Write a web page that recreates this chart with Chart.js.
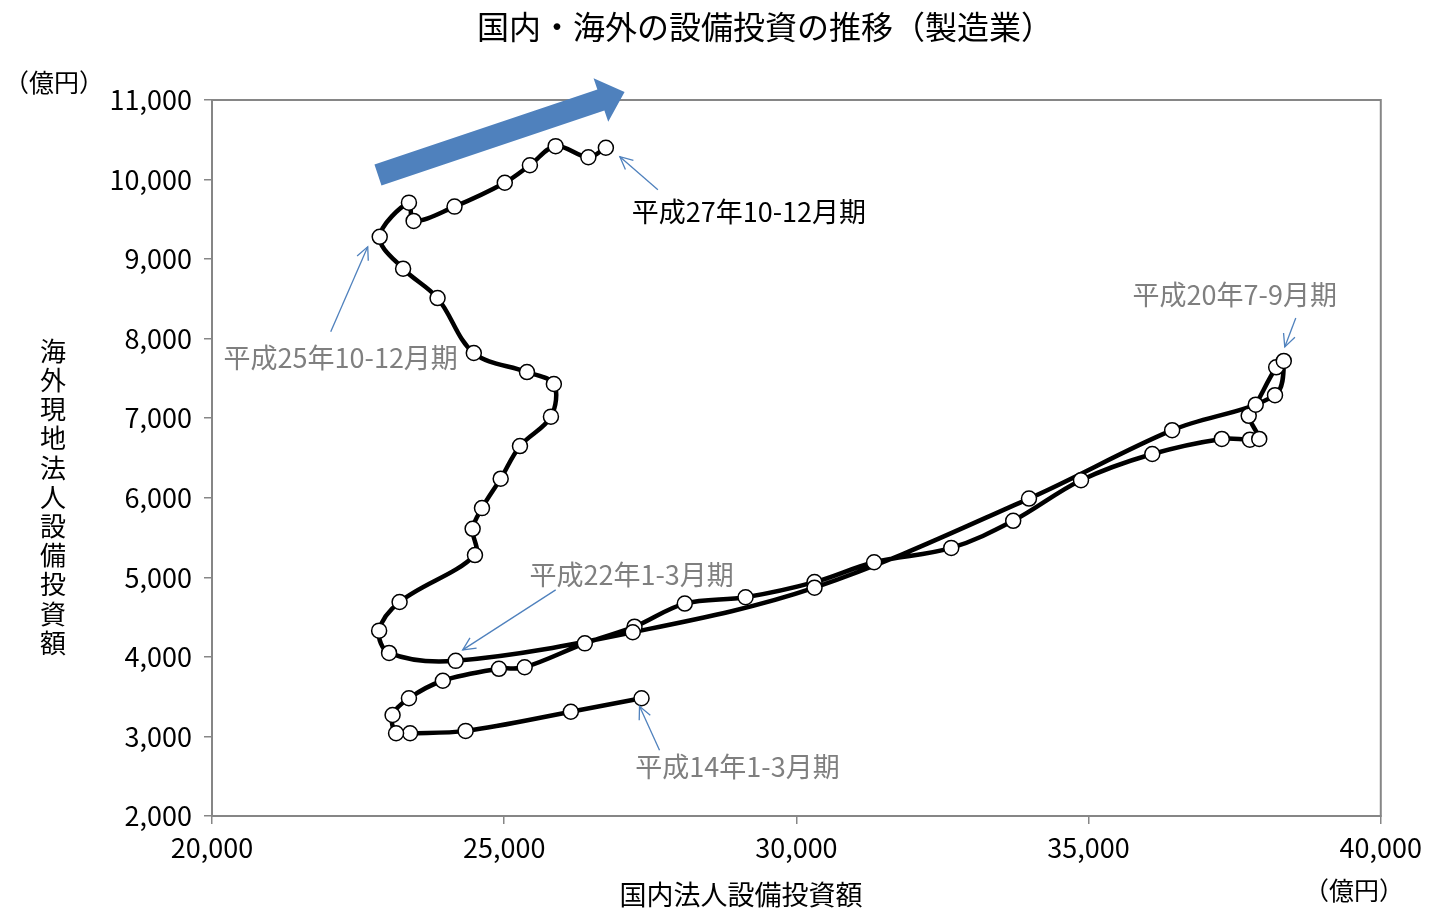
<!DOCTYPE html>
<html lang="ja">
<head>
<meta charset="utf-8">
<title>国内・海外の設備投資の推移（製造業）</title>
<script src="https://cdn.jsdelivr.net/npm/chart.js@4.4.1/dist/chart.umd.min.js"></script>
<style>
    html, body { margin: 0; padding: 0; background: #fff; }
    #wrap { width: 1430px; height: 911px; }
</style>
</head>
<body>
<div id="wrap"><canvas id="chart"></canvas></div>
<script>
// ===== DATA (億円, 平成14年1-3月期 〜 平成27年10-12月期, 四半期) =====
const domestic = [
    27350, 26140, 24340, 23390, 23150, 23090, 23370, 23950, 24910, 25350, 26380, 27230,
    28090, 29130, 30310, 31330, 32650, 33710, 34870, 36090, 37280, 37760, 37920, 37740,
    37860, 38210, 38340, 38190, 36430, 33980, 30310, 27200, 24170, 23030, 22860, 23210,
    24500, 24460, 24620, 24940, 25270, 25800, 25850, 25390, 24480, 23860, 23270, 22870,
    23370, 23450, 24150, 25010, 25440, 25880, 26440, 26740
];
const overseas = [
    3480, 3310, 3070, 3040, 3040, 3270, 3480, 3700, 3850, 3870, 4170, 4380,
    4670, 4750, 4940, 5190, 5370, 5710, 6220, 6550, 6740, 6730, 6740, 7030,
    7170, 7640, 7720, 7290, 6850, 5990, 4870, 4310, 3950, 4050, 4330, 4690,
    5280, 5610, 5870, 6240, 6650, 7020, 7430, 7580, 7820, 8510, 8880, 9280,
    9710, 9480, 9660, 9960, 10180, 10420, 10280, 10400
];
const xTicks = [20000, 25000, 30000, 35000, 40000];
const yTicks = [2000, 3000, 4000, 5000, 6000, 7000, 8000, 9000, 10000, 11000];

const FONT = "'Noto Sans CJK JP', 'Noto Sans', sans-serif";
const GRAY = "#868686";
const BLUE = "#4F81BD";

// 注記: idx = 対象の点, 位置は点からのピクセル差
const notes = [
    { idx: 0,  text: "平成14年1-3月期",  color: "#7f7f7f", label: [96, 68],   tail: [18, 52],  tip: [-2, 8] },
    { idx: 26, text: "平成20年7-9月期",  color: "#7f7f7f", label: [-49, -66], tail: [12, -43], tip: [1, -14] },
    { idx: 32, text: "平成22年1-3月期",  color: "#7f7f7f", label: [176, -86], tail: [100, -71], tip: [7, -11] },
    { idx: 47, text: "平成25年10-12月期", color: "#7f7f7f", label: [-39, 121], tail: [-49, 95], tip: [-12, 10] },
    { idx: 55, text: "平成27年10-12月期", color: "#000000", label: [143, 64],  tail: [52, 42],  tip: [14, 9] }
];

// 大きい矢印 (データ座標)
const trendArrow = { from: [22840, 10057], to: [27060, 11100] };

function thinArrow(ctx, x1, y1, x2, y2) {
    ctx.beginPath();
    ctx.moveTo(x1, y1);
    ctx.lineTo(x2, y2);
    ctx.stroke();
    const a = Math.atan2(y2 - y1, x2 - x1);
    const len = 14, spread = 0.45;
    ctx.beginPath();
    ctx.moveTo(x2 - len * Math.cos(a - spread), y2 - len * Math.sin(a - spread));
    ctx.lineTo(x2, y2);
    ctx.lineTo(x2 - len * Math.cos(a + spread), y2 - len * Math.sin(a + spread));
    ctx.stroke();
}

function bigArrow(ctx, x1, y1, x2, y2) {
    const a = Math.atan2(y2 - y1, x2 - x1);
    const L = Math.hypot(x2 - x1, y2 - y1);
    ctx.save();
    ctx.translate(x1, y1);
    ctx.rotate(a);
    ctx.beginPath();
    ctx.moveTo(0, -11);
    ctx.lineTo(L - 25, -11);
    ctx.lineTo(L - 25, -23);
    ctx.lineTo(L, 0);
    ctx.lineTo(L - 25, 23);
    ctx.lineTo(L - 25, 11);
    ctx.lineTo(0, 11);
    ctx.closePath();
    ctx.fillStyle = BLUE;
    ctx.fill();
    ctx.restore();
}

function text(ctx, str, x, y, size, color) {
    ctx.font = size + "px " + FONT;
    ctx.fillStyle = color || "#000";
    ctx.textAlign = "center";
    ctx.textBaseline = "middle";
    ctx.fillText(str, x, y);
}

const decorations = {
    id: "decorations",
    afterDraw(chart) {
        const ctx = chart.ctx;
        const a = chart.chartArea;
        const xs = chart.scales.x, ys = chart.scales.y;
        ctx.save();

        // 枠
        ctx.strokeStyle = GRAY;
        ctx.lineWidth = 2;
        ctx.strokeRect(a.left, a.top, a.right - a.left, a.bottom - a.top);

        // タイトル・軸ラベル
        text(ctx, "国内・海外の設備投資の推移（製造業）", 765, 27, 32);
        text(ctx, "（億円）", 54, 82, 25);
        text(ctx, "（億円）", 1354, 890, 25);
        text(ctx, "国内法人設備投資額", 741, 895, 27);
        const yTitle = "海外現地法人設備投資額";
        for (let i = 0; i < yTitle.length; i++) {
            text(ctx, yTitle[i], 53, 351 + i * 29.2, 26);
        }

        // 注記
        notes.forEach(n => {
            const px = xs.getPixelForValue(domestic[n.idx]);
            const py = ys.getPixelForValue(overseas[n.idx]);
            ctx.strokeStyle = BLUE;
            ctx.lineWidth = 1.3;
            thinArrow(ctx, px + n.tail[0], py + n.tail[1], px + n.tip[0], py + n.tip[1]);
            text(ctx, n.text, px + n.label[0], py + n.label[1], 27, n.color);
        });

        // トレンド矢印
        bigArrow(ctx,
            xs.getPixelForValue(trendArrow.from[0]), ys.getPixelForValue(trendArrow.from[1]),
            xs.getPixelForValue(trendArrow.to[0]), ys.getPixelForValue(trendArrow.to[1]));

        ctx.restore();
    }
};

const points = domestic.map((d, i) => ({ x: d, y: overseas[i] }));

new Chart(document.getElementById("chart"), {
    type: "scatter",
    data: {
        datasets: [{
            label: "設備投資",
            data: points,
            showLine: true,
            borderColor: "#000",
            borderWidth: 4.5,
            tension: 0.35,
            pointRadius: 7.5,
            pointBorderWidth: 1.5,
            pointBackgroundColor: "#fff",
            pointBorderColor: "#000"
        }]
    },
    options: {
        responsive: true,
        maintainAspectRatio: false,
        animation: false,
        layout: { padding: { top: 100, right: 48, bottom: 0, left: 0 } },
        plugins: {
            legend: { display: false },
            title: { display: false },
            tooltip: { enabled: false }
        },
        scales: {
            x: {
                type: "linear",
                min: 20000,
                max: 40000,
                afterBuildTicks: axis => { axis.ticks = xTicks.map(v => ({ value: v })); },
                afterFit: axis => { axis.height = 95; },
                grid: { drawOnChartArea: false, color: GRAY, lineWidth: 1.5, tickLength: 8 },
                border: { color: GRAY, width: 2 },
                ticks: {
                    padding: 8,
                    color: "#000",
                    maxRotation: 0,
                    font: { family: FONT, size: 27 },
                    callback: v => Number(v).toLocaleString("en-US")
                }
            },
            y: {
                type: "linear",
                min: 2000,
                max: 11000,
                afterBuildTicks: axis => { axis.ticks = yTicks.map(v => ({ value: v })); },
                afterFit: axis => { axis.width = 212; },
                grid: { drawOnChartArea: false, color: GRAY, lineWidth: 1.5, tickLength: 8 },
                border: { color: GRAY, width: 2 },
                ticks: {
                    padding: 12,
                    color: "#000",
                    font: { family: FONT, size: 27 },
                    callback: v => Number(v).toLocaleString("en-US")
                }
            }
        }
    },
    plugins: [decorations]
});
</script>
</body>
</html>
